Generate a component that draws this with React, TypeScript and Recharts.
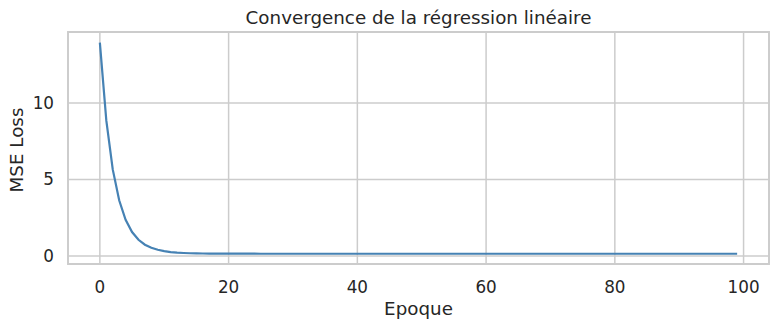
import { LineChart, Line, XAxis, YAxis, CartesianGrid, ReferenceArea, Label } from 'recharts'

const EPOCHS = [
  0, 1, 2, 3, 4, 5, 6, 7, 8, 9,
  10, 11, 12, 13, 14, 15, 16, 17, 18, 19,
  20, 21, 22, 23, 24, 25, 26, 27, 28, 29,
  30, 31, 32, 33, 34, 35, 36, 37, 38, 39,
  40, 41, 42, 43, 44, 45, 46, 47, 48, 49,
  50, 51, 52, 53, 54, 55, 56, 57, 58, 59,
  60, 61, 62, 63, 64, 65, 66, 67, 68, 69,
  70, 71, 72, 73, 74, 75, 76, 77, 78, 79,
  80, 81, 82, 83, 84, 85, 86, 87, 88, 89,
  90, 91, 92, 93, 94, 95, 96, 97, 98, 99,
]

// MSE, one per epoch
const LOSS = [
  13.95, 8.86, 5.66, 3.64, 2.37, 1.57, 1.06, 0.74, 0.54, 0.41,
  0.32, 0.26, 0.225, 0.200, 0.184, 0.173, 0.166, 0.161, 0.158, 0.156,
  0.155, 0.154, 0.153, 0.152, 0.152, 0.151, 0.151, 0.151, 0.150, 0.150,
  0.150, 0.150, 0.150, 0.150, 0.150, 0.150, 0.150, 0.150, 0.150, 0.150,
  0.150, 0.150, 0.150, 0.150, 0.150, 0.150, 0.150, 0.150, 0.150, 0.150,
  0.150, 0.150, 0.150, 0.150, 0.150, 0.150, 0.150, 0.150, 0.150, 0.150,
  0.150, 0.150, 0.150, 0.150, 0.150, 0.150, 0.150, 0.150, 0.150, 0.150,
  0.150, 0.150, 0.150, 0.150, 0.150, 0.150, 0.150, 0.150, 0.150, 0.150,
  0.150, 0.150, 0.150, 0.150, 0.150, 0.150, 0.150, 0.150, 0.150, 0.150,
  0.150, 0.150, 0.150, 0.150, 0.150, 0.150, 0.150, 0.150, 0.150, 0.150,
]

const X_TICKS = [0, 20, 40, 60, 80, 100]
const Y_TICKS = [0, 5, 10]

const TITLE = 'Convergence de la régression linéaire'
const X_LABEL = 'Epoque'
const Y_LABEL = 'MSE Loss'

const X_DOMAIN: [number, number] = [-4.95, 103.95]
const Y_DOMAIN: [number, number] = [-0.52, 14.64]

const FONT = '"DejaVu Sans", sans-serif'
const TEXT = '#262626'
const GRID = '#cccccc'

export default function App() {
  const data = EPOCHS.map((e, i) => ({ epoch: e, loss: LOSS[i] }))

  return (
    <div style={{ position: 'absolute', left: 0, top: 0, width: 780, height: 330, background: '#fff', fontFamily: FONT }}>
      <LineChart
        width={780}
        height={330}
        data={data}
        margin={{ top: 32, right: 11, bottom: 0, left: 0 }}
        style={{ fontFamily: FONT }}
      >
        <CartesianGrid stroke={GRID} strokeWidth={1.5} />
        <XAxis
          dataKey="epoch"
          type="number"
          domain={X_DOMAIN}
          ticks={X_TICKS}
          allowDataOverflow
          height={66}
          tickSize={0}
          tickMargin={17.4}
          axisLine={false}
          tickLine={false}
          tick={{ fill: TEXT, fontSize: 16.8 }}
        >
          <Label
            content={() => (
              <text x={418.5} y={315} textAnchor="middle" fill={TEXT} fontSize={18.3} fontFamily={FONT}>
                {X_LABEL}
              </text>
            )}
          />
        </XAxis>
        <YAxis
          type="number"
          domain={Y_DOMAIN}
          ticks={Y_TICKS}
          allowDataOverflow
          width={68}
          tickSize={0}
          tickMargin={14}
          axisLine={false}
          tickLine={false}
          tick={{ fill: TEXT, fontSize: 16.8 }}
        >
          <Label
            content={() => (
              <text
                x={0}
                y={0}
                transform="translate(23.3 150) rotate(-90)"
                textAnchor="middle"
                fill={TEXT}
                fontSize={18.3}
                fontFamily={FONT}
              >
                {Y_LABEL}
              </text>
            )}
          />
        </YAxis>
        <ReferenceArea
          x1={X_DOMAIN[0]}
          x2={X_DOMAIN[1]}
          y1={Y_DOMAIN[0]}
          y2={Y_DOMAIN[1]}
          fill="none"
          stroke={GRID}
          strokeWidth={1.9}
          ifOverflow="visible"
        />
        <Line
          dataKey="loss"
          type="linear"
          stroke="#4682b4"
          strokeWidth={2.2}
          dot={false}
          activeDot={false}
          isAnimationActive={false}
        />
      </LineChart>
      <div
        style={{
          position: 'absolute', left: 68, width: 701, top: 7, textAlign: 'center',
          fontSize: 18.3, color: TEXT, lineHeight: '22px', whiteSpace: 'nowrap',
        }}
      >
        {TITLE}
      </div>
    </div>
  )
}
